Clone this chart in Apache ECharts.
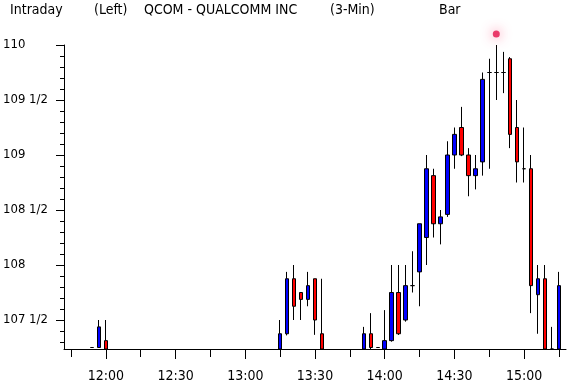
<!DOCTYPE html>
<html><head><meta charset="utf-8">
<script src="https://cdn.jsdelivr.net/npm/echarts@6/dist/echarts.min.js"></script>
<style>html,body{margin:0;padding:0;background:#fff}#c{width:569px;height:384px}</style>
</head><body><div id="c"></div>
<script>
// ---- data (3-minute bars) ----
const times  = ['11:54','11:57','12:00','13:15','13:18','13:21','13:24','13:27','13:30','13:33',
                '13:51','13:54','13:57','14:00','14:03','14:06','14:09','14:12','14:15','14:18',
                '14:21','14:24','14:27','14:30','14:33','14:36','14:39','14:42','14:45','14:48',
                '14:51','14:54','14:57','15:00','15:03','15:06','15:09','15:12','15:15'];
const opens  = [107.25,107.25,107.3125,107.1875,107.375,107.875,107.75,107.6875,107.875,107.375,
                107.1875,107.375,107.25,107.1875,107.3125,107.75,107.5,107.8125,107.9375,108.25,
                108.8125,108.375,108.46,109.0,109.25,109.0,108.8125,108.9375,109.75,109.75,
                109.75,109.875,109.25,108.875,108.875,107.73,107.875,107.1875,107.1875];
const closes = [107.25,107.4375,107.1875,107.375,107.875,107.625,107.6875,107.8125,107.5,107.1875,
                107.375,107.25,107.25,107.3125,107.75,107.375,107.8125,107.8125,108.375,108.875,
                108.375,108.4375,109.0,109.1875,109.0,108.8125,108.875,109.6875,109.75,109.75,
                109.75,109.1875,108.9375,108.875,107.8125,107.875,107.1875,107.125,107.8125];
const lows   = [107.25,107.25,107.125,107.125,107.36,107.5,107.5,107.625,107.365,107.125,
                107.125,107.2,107.25,107.125,107.303,107.364,107.485,107.75,107.625,108.0,
                108.25,108.1875,108.4375,108.875,108.99,108.625,108.6875,108.8125,108.875,109.5,
                109.5625,109.0625,108.75,108.75,107.5625,107.375,107.125,107.0,107.125];
const highs  = [107.25,107.5,107.5,107.5,107.9375,108.0,107.75,107.9375,107.875,107.875,
                107.4375,107.5625,107.25,107.59,108.0,108.0,108.0,108.125,108.375,109.0,
                108.875,108.5,109.125,109.25,109.4375,109.0625,109.0,109.75,109.875,110.0,
                109.9375,109.89,109.5,109.25,109.0,108.0,108.0,107.4375,107.9375];
const markTimes  = ['14:48'];
const markPrices = [110.1];
const yLabelValues = [107.5, 108, 108.5, 109, 109.5, 110];
const yMinorValues = [107.3,107.4,107.5,107.6,107.7,107.8,107.9,108,108.1,108.2,108.3,108.4,108.5,
                      108.6,108.7,108.8,108.9,109,109.1,109.2,109.3,109.4,109.5,109.6,109.7,109.8,109.9,110];
const xLabelTimes = ['12:00','12:30','13:00','13:30','14:00','14:30','15:00'];
const xMinorTimes = ['11:45','12:00','12:15','12:30','12:45','13:00','13:15','13:30','13:45',
                     '14:00','14:15','14:30','14:45','15:00','15:15'];
const titleParts = [['Intraday',10],['(Left)',94],['QCOM - QUALCOMM INC',144],['(3-Min)',330],['Bar',439]];

// ---- helpers ----
const toMin = s => { const [h,m] = s.split(':').map(Number); return h*60+m; };
const fmtMin = v => { const h = Math.floor(v/60), m = Math.round(v - h*60); return h + ':' + (m<10?'0':'') + m; };
const fmtPrice = v => { const w = Math.floor(v+1e-9); return (v - w > 0.25) ? (w + ' 1/2') : String(w); };
const FONT = "'Liberation Sans Narrow','DejaVu Sans Condensed','Arial Narrow',sans-serif";

const X_MIN = 702, X_MAX = 918, Y_MIN = 107.2364, Y_MAX = 110;
// plotted region ends at the axis: values below it are drawn down to the axis only
const lim = v => Math.min(Y_MAX, Math.max(Y_MIN, v));
const candleData = times.map((t,i) => [toMin(t), lim(opens[i]), lim(closes[i]), lim(lows[i]), lim(highs[i])]);
const markData = markTimes.map((t,i) => [toMin(t), markPrices[i]]);

const chart = echarts.init(document.getElementById('c'), null, {renderer:'canvas'});
chart.setOption({
  animation: false,
  backgroundColor: '#fff',
  graphic: titleParts.map(([txt, x]) => ({
    type: 'text', left: x, top: 3,
    style: { text: txt, fill: '#000', font: '14px ' + FONT }
  })),
  grid: { left: 62, top: 45, width: 504, height: 304, containLabel: false },
  xAxis: [
    { type: 'value', min: X_MIN, max: X_MAX, position: 'bottom',
      axisLine: { show: true, lineStyle: { color: '#000', width: 1 } },
      axisTick: { show: true, length: 8, lineStyle: { color: '#000' }, customValues: xMinorTimes.map(toMin) },
      axisLabel: { show: false }, splitLine: { show: false } },
    { type: 'value', min: X_MIN, max: X_MAX, position: 'bottom', gridIndex: 0,
      axisLine: { show: false },
      axisTick: { show: true, length: 10, lineStyle: { color: '#000' }, customValues: xLabelTimes.map(toMin) },
      axisLabel: { show: true, customValues: xLabelTimes.map(toMin), formatter: fmtMin,
                   color: '#000', fontFamily: FONT, fontSize: 14, margin: 20 },
      splitLine: { show: false } }
  ],
  yAxis: [
    { type: 'value', min: Y_MIN, max: Y_MAX, position: 'left',
      axisLine: { show: true, lineStyle: { color: '#000', width: 1 } },
      axisTick: { show: true, length: 4, lineStyle: { color: '#000' }, customValues: yMinorValues },
      axisLabel: { show: false }, splitLine: { show: false } },
    { type: 'value', min: Y_MIN, max: Y_MAX, position: 'left', gridIndex: 0,
      axisLine: { show: false },
      axisTick: { show: true, length: 8, lineStyle: { color: '#000' }, customValues: yLabelValues },
      axisLabel: { show: true, customValues: yLabelValues, formatter: fmtPrice, align: 'left',
                   color: '#000', fontFamily: FONT, fontSize: 13, margin: 61 },
      splitLine: { show: false } }
  ],
  series: [
    { type: 'candlestick', xAxisIndex: 0, yAxisIndex: 0, data: candleData, barWidth: 4, clip: true,
      itemStyle: { color: '#0000ff', color0: '#ff0000', borderColor: '#000', borderColor0: '#000',
                   borderColorDoji: '#000', borderWidth: 1 } },
    { type: 'scatter', xAxisIndex: 0, yAxisIndex: 0, data: markData, clip: false, symbolSize: 7,
      itemStyle: { color: '#e5104a', shadowBlur: 12, shadowColor: 'rgba(255,60,110,1)' } }
  ]
});
</script></body></html>
